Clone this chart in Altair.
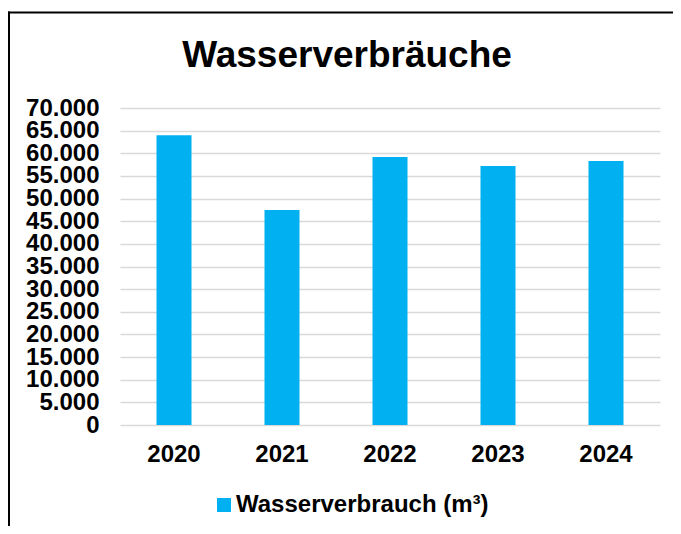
import altair as alt
import pandas as pd

years = ["2020", "2021", "2022", "2023", "2024"]
values = [64000, 47500, 59200, 57200, 58300]
series_name = "Wasserverbrauch (m³)"
y_ticks = [0, 5000, 10000, 15000, 20000, 25000, 30000, 35000, 40000, 45000,
           50000, 55000, 60000, 65000, 70000]
title_text = "Wasserverbräuche"

FONT = "Liberation Sans"
BLUE = "#00B0F0"

df = pd.DataFrame({"Jahr": years, "Wert": values, "Serie": [series_name] * len(years)})
frame_df = pd.DataFrame({"k": [0]})

bars = alt.Chart(df).mark_bar(size=35).encode(
    x=alt.X(
        "Jahr:N",
        sort=years,
        scale=alt.Scale(paddingInner=0, paddingOuter=0),
        axis=alt.Axis(
            title=None, labelAngle=0, ticks=False, tickSize=0, domain=False,
            grid=False, labelPadding=17, labelFontSize=24, labelFont=FONT,
            labelFontWeight="bold", labelColor="black",
        ),
    ),
    y=alt.Y(
        "Wert:Q",
        scale=alt.Scale(domain=[0, 70000], nice=False),
        axis=alt.Axis(
            title=None, values=y_ticks,
            labelExpr="replace(format(datum.value, ','), ',', '.')",
            ticks=False, tickSize=0, domain=False, labelPadding=21,
            labelOverlap=False,
            labelFontSize=24, labelFont=FONT, labelFontWeight="bold",
            labelColor="black", gridColor="#D9D9D9", gridWidth=1.5,
        ),
    ),
    color=alt.Color(
        "Serie:N",
        scale=alt.Scale(range=[BLUE]),
        legend=alt.Legend(
            title=None, orient="none", legendX=92, legendY=385,
            symbolType="square", symbolSize=196, symbolStrokeWidth=0,
            labelFontSize=24, labelFont=FONT, labelFontWeight="bold",
            labelColor="black", labelOffset=0, labelLimit=400, padding=0,
        ),
    ),
)

left_line = alt.Chart(frame_df).mark_rule(color="black", strokeWidth=2).encode(
    x=alt.value(-111), y=alt.value(-96.5), y2=alt.value(420)
)
top_line = alt.Chart(frame_df).mark_rule(color="black", strokeWidth=2).encode(
    x=alt.value(-112), x2=alt.value(560), y=alt.value(-95.5)
)

chart = alt.layer(bars, left_line, top_line).properties(
    width=540,
    height=317,
    title=alt.TitleParams(
        title_text, fontSize=37, font=FONT, fontWeight="bold", color="black",
        anchor="middle", dx=-43, dy=93, offset=0, baseline="alphabetic",
    ),
    autosize=alt.AutoSizeParams(type="none"),
    padding={"left": 112, "top": 100, "right": 13, "bottom": 101},
).configure_view(strokeWidth=0)

chart.save("out.html", embed_options={"renderer": "svg", "actions": False})
